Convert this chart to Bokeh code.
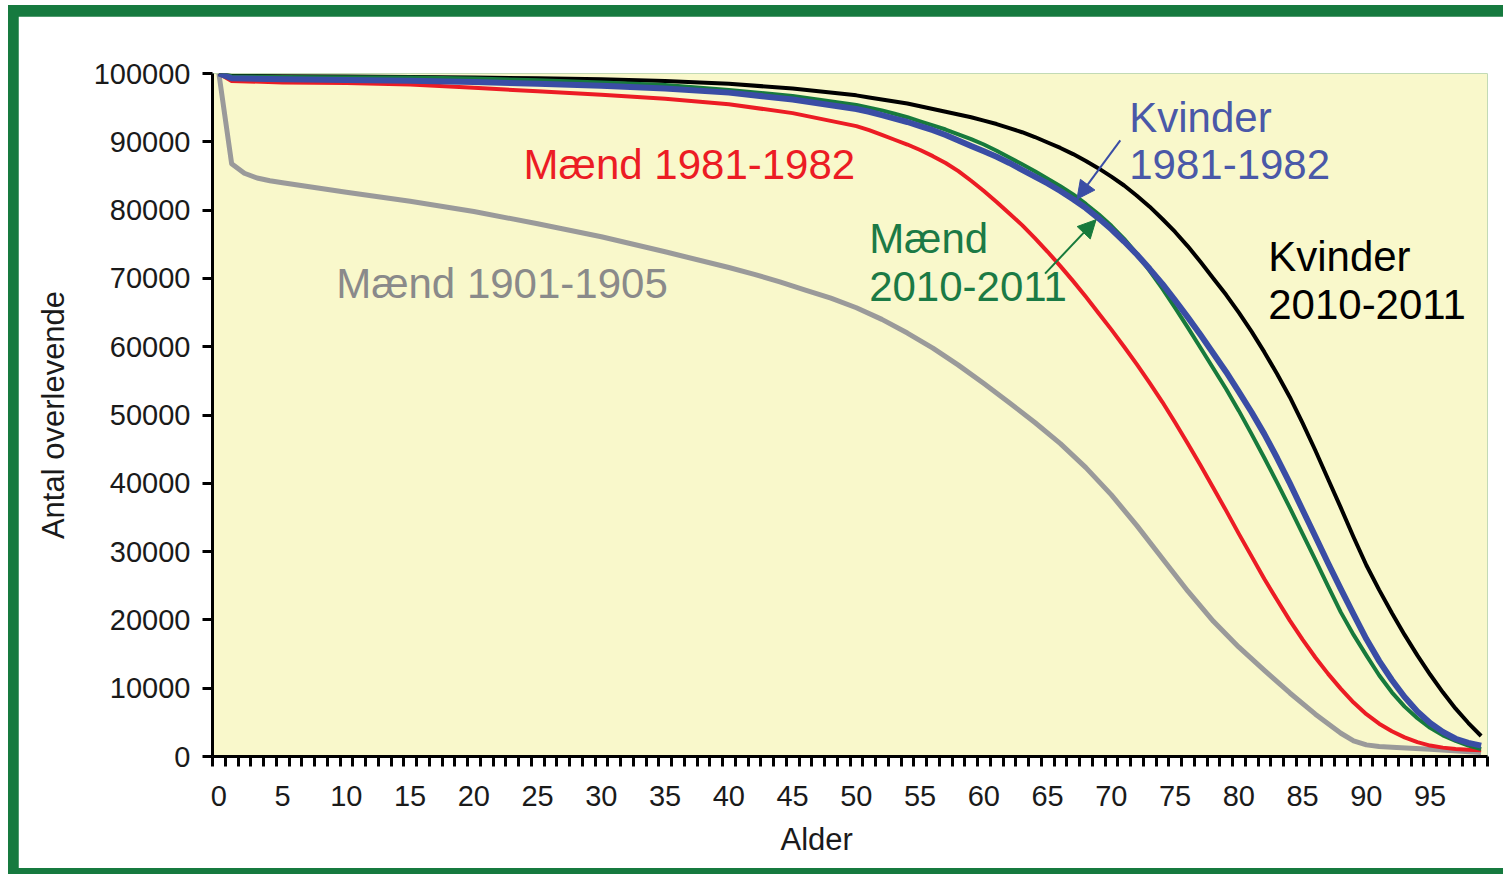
from bokeh.plotting import figure
from bokeh.models import FixedTicker, NumeralTickFormatter, Range1d, Arrow, NormalHead, Label, Title
from bokeh.layouts import column
from bokeh.embed import file_html
from bokeh.resources import INLINE

# ---------------- data ----------------
ages_gray = [0, 1, 2, 3, 4, 5, 10, 15, 20, 25, 30, 35, 40, 42, 44, 46, 48, 50, 52, 54,
             56, 58, 60, 62, 64, 66, 68, 70, 72, 74, 76, 78, 80, 82, 84, 86, 87, 88, 89,
             90, 91, 92, 95, 99]
maend_1901 = [100000, 86800, 85400, 84700, 84300, 84000, 82600, 81300, 79800, 78000,
              76100, 73900, 71600, 70600, 69500, 68300, 67100, 65700, 64000, 62000,
              59800, 57300, 54600, 51800, 48900, 45800, 42300, 38300, 33800, 29000,
              24200, 19800, 16000, 12600, 9300, 6200, 4800, 3400, 2300,
              1700, 1450, 1350, 1050, 600]

ages = [0, 1, 5, 10, 15, 20, 25, 30, 35, 40, 45,
        50, 51, 52, 53, 54, 55, 56, 57, 58, 59, 60, 61, 62, 63, 64, 65, 66, 67, 68, 69,
        70, 71, 72, 73, 74, 75, 76, 77, 78, 79, 80, 81, 82, 83, 84, 85, 86, 87, 88, 89,
        90, 91, 92, 93, 94, 95, 96, 97, 98, 99]
maend_1981 = [100000, 98900, 98700, 98600, 98400, 97900, 97400, 96900, 96300, 95500, 94200,
              92300, 91700, 91000, 90300, 89600, 88800, 87900, 86900, 85700, 84300,
              82800, 81200, 79500, 77800, 75900, 73900, 71800, 69600, 67300, 64900,
              62500, 60000, 57400, 54700, 51900, 48900, 45800, 42600, 39300, 36000,
              32600, 29300, 26000, 22900, 19900, 17100, 14500, 12100, 9900, 7900,
              6200, 4800, 3700, 2800, 2100, 1600, 1300, 1100, 1000, 900]
kvinder_1981 = [100000, 99300, 99150, 99050, 98950, 98750, 98500, 98200, 97800, 97200, 96200,
                94800, 94400, 93900, 93400, 92900, 92300, 91700, 91000, 90200, 89400,
                88600, 87800, 86900, 85900, 84900, 83900, 82800, 81600, 80300, 78800,
                77200, 75400, 73500, 71400, 69200, 66800, 64300, 61700, 59000, 56300,
                53400, 50400, 47200, 43700, 40000, 36100, 32200, 28300, 24500, 20800,
                17200, 14000, 11200, 8700, 6600, 4900, 3600, 2600, 2000, 1600]
maend_2010 = [100000, 99600, 99500, 99450, 99400, 99250, 99000, 98700, 98300, 97600, 96700,
              95400, 95000, 94600, 94100, 93600, 93000, 92400, 91800, 91100, 90400,
              89600, 88700, 87700, 86700, 85700, 84600, 83500, 82300, 80900, 79400,
              77700, 75800, 73600, 71100, 68500, 65700, 62800, 59800, 56800, 53800,
              50600, 47200, 43700, 40100, 36400, 32600, 28800, 24900, 21100, 17800,
              14800, 11900, 9400, 7300, 5600, 4200, 3100, 2300, 1600, 1100]
kvinder_2010 = [100000, 99650, 99600, 99550, 99500, 99400, 99300, 99150, 98900, 98500, 97800,
                96800, 96500, 96200, 95900, 95600, 95200, 94800, 94400, 94000, 93600,
                93100, 92600, 92000, 91400, 90700, 89900, 89100, 88200, 87200, 86100,
                84900, 83600, 82100, 80500, 78700, 76800, 74700, 72400, 70000, 67600,
                65000, 62200, 59200, 56000, 52600, 48800, 44800, 40600, 36400, 32100,
                28000, 24400, 21000, 17800, 14800, 12000, 9400, 7000, 4900, 3000]

x_tick_labels = [0, 5, 10, 15, 20, 25, 30, 35, 40, 45, 50, 55, 60, 65, 70, 75, 80, 85, 90, 95]
y_ticks = [0, 10000, 20000, 30000, 40000, 50000, 60000, 70000, 80000, 90000, 100000]

FONT = "Liberation Sans"
GREEN_FRAME = "#167A3F"
C_GRAY, C_RED, C_BLUE, C_GREEN, C_BLACK = "#9A9A9A", "#EC1C24", "#3A4DA5", "#177A3C", "#000000"

p = figure(width=1485, height=852, output_backend="svg", toolbar_location=None,
           x_range=Range1d(-0.5, 99.5), y_range=Range1d(0, 100000),
           min_border_left=194, min_border_right=16, min_border_top=57, min_border_bottom=112,
           background_fill_color="#F9F8CB", border_fill_color="white")
p.outline_line_color = None
p.grid.visible = False

p.line(ages_gray, maend_1901, line_color=C_GRAY, line_width=5, line_join="round")
p.line(ages, maend_1981, line_color=C_RED, line_width=4, line_join="round")
p.line(ages, kvinder_2010, line_color=C_BLACK, line_width=4, line_join="round")
p.line(ages, maend_2010, line_color=C_GREEN, line_width=4, line_join="round")
p.line(ages, kvinder_1981, line_color=C_BLUE, line_width=6, line_join="round")

# axes
xa = p.xaxis[0]
xa.ticker = FixedTicker(ticks=x_tick_labels, minor_ticks=[i - 0.5 for i in range(101)])
xa.major_tick_line_color = None
xa.major_tick_out = 10
xa.major_tick_in = 0
xa.minor_tick_out = 10
xa.minor_tick_in = 0
xa.minor_tick_line_width = 3
xa.minor_tick_line_color = "black"
xa.axis_line_width = 3
xa.axis_line_color = "black"
xa.major_label_standoff = 19

ya = p.yaxis[0]
ya.ticker = FixedTicker(ticks=y_ticks)
ya.formatter = NumeralTickFormatter(format="0")
ya.major_tick_out = 10
ya.major_tick_in = 0
ya.major_tick_line_width = 3
ya.major_tick_line_color = "black"
ya.minor_tick_line_color = None
ya.axis_line_width = 3
ya.axis_line_color = "black"
ya.axis_label = "Antal overlevende"
ya.major_label_standoff = 12

for ax in (xa, ya):
    ax.major_label_text_font = FONT
    ax.major_label_text_font_size = "29px"
    ax.major_label_text_color = "#1A1A1A"
    ax.axis_label_text_font = FONT
    ax.axis_label_text_font_size = "31px"
    ax.axis_label_text_font_style = "normal"
    ax.axis_label_text_color = "#1A1A1A"
ya.axis_label_standoff = 20

# x-axis title below the tick labels, slightly left of centre as in the original
p.add_layout(Title(text="Alder", align="left", offset=568, standoff=23,
                   text_font=FONT, text_font_size="31px", text_font_style="normal",
                   text_color="#1A1A1A"), "below")

# annotations
texts = [
    ("Mænd 1981-1982", 23.9, 86700, C_RED),
    ("Mænd 1901-1905", 9.2, 69300, "#8A8A8A"),
    ("Kvinder", 71.4, 93600, "#4A58A8"),
    ("1981-1982", 71.4, 86700, "#4A58A8"),
    ("Mænd", 51.0, 75800, "#1B7A45"),
    ("2010-2011", 51.0, 68800, "#1B7A45"),
    ("Kvinder", 82.3, 73200, C_BLACK),
    ("2010-2011", 82.3, 66200, C_BLACK),
]
for t, x, y, c in texts:
    p.add_layout(Label(x=x, y=y, text=t, text_color=c, text_font=FONT,
                       text_font_size="42px", text_align="left", text_baseline="middle"))

p.add_layout(Arrow(end=NormalHead(size=18, fill_color=C_BLUE, line_color=C_BLUE),
                   x_start=70.7, y_start=90200, x_end=67.3, y_end=81600,
                   line_color=C_BLUE, line_width=2))
p.add_layout(Arrow(end=NormalHead(size=18, fill_color=C_GREEN, line_color=C_GREEN),
                   x_start=64.8, y_start=70700, x_end=68.8, y_end=78600,
                   line_color=C_GREEN, line_width=2))

inner = column(p, styles={"background-color": GREEN_FRAME, "padding": "11px 0px 6px 10px"})
layout = column(inner, styles={"background-color": "white", "padding": "5px 0px 0px 8px"})

open("out.html", "w").write(file_html(layout, INLINE))
